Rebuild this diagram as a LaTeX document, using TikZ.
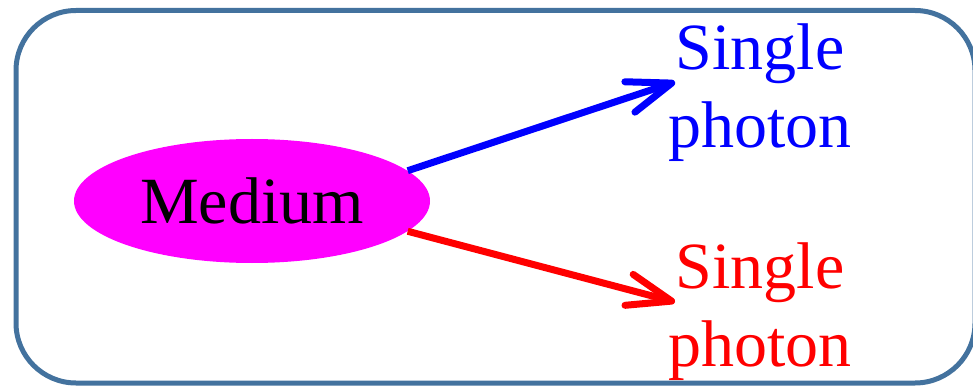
\documentclass[tikz,border=0pt]{standalone}
\usepackage{fontspec}
\setmainfont{Liberation Serif}
\newfontfamily\timesfont{Liberation Serif}
\usetikzlibrary{arrows.meta, positioning, shapes.geometric}
\definecolor{frameblue}{RGB}{67, 114, 158}
\definecolor{mediumpink}{RGB}{255, 0, 255}

\begin{document}
\begin{tikzpicture}[
  x=1pt, y=-1pt,
  frame/.style={draw=frameblue, line width=5pt, rounded corners=60pt},
  medium/.style={ellipse, fill=mediumpink, inner sep=0pt,
                 minimum width=356pt, minimum height=124pt,
                 font=\timesfont\fontsize{66}{78}\selectfont},
  label/.style={align=center, inner sep=0pt,
                font=\timesfont\fontsize{66}{78}\selectfont},
  photon/.style={-{Straight Barb[length=44pt, width=32pt, line cap=round, round]},
                 line width=7pt}
]
  \useasboundingbox (0,0) rectangle (973,387);
  \draw[frame] (16,10.5) rectangle (975,383);

  \node[medium] (medium) at (252,201) {Medium};
  \node[label, text=blue] (upper) at (760,93) {Single\\photon};
  \node[label, text=red] (lower) at (760,312) {Single\\photon};

  \coordinate (uppertip) at (675,82);
  \coordinate (lowertip) at (675,302);

  \draw[photon, blue] (medium.11) -- (uppertip);
  \draw[photon, red] (medium.-11) -- (lowertip);
\end{tikzpicture}
\end{document}
